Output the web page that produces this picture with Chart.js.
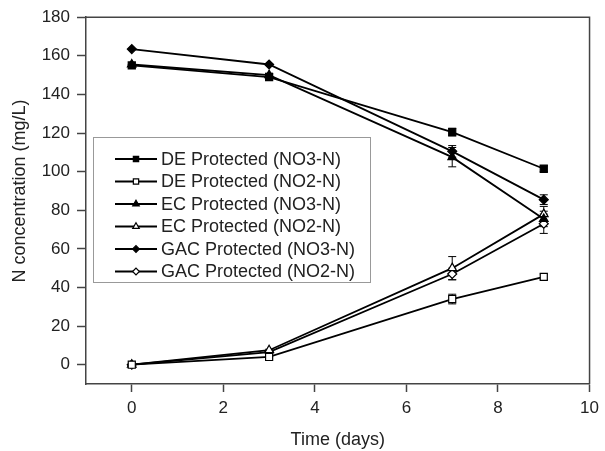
<!DOCTYPE html>
<html>
<head>
<meta charset="utf-8">
<script src="https://cdn.jsdelivr.net/npm/chart.js@4/dist/chart.umd.min.js"></script>
<style>
  html, body { margin: 0; padding: 0; background: #fff; }
  #wrap { width: 605px; height: 451px; }
</style>
</head>
<body>
<div id="wrap"><canvas id="chart" width="605" height="451"></canvas></div>
<script>
// time points (days)
const days = [0, 3, 7, 9];

// series values (mg/L)
const deNO3 = [155, 149, 120.5, 101.5];
const deNO2 = [0, 4, 34, 45.5];
const ecNO3 = [155.5, 150, 107.5, 75.5];
const ecNO2 = [0, 7.5, 50, 78];
const gacNO3 = [163.5, 155.5, 110.5, 85.5];
const gacNO2 = [0, 6.5, 47, 73];

// error bar half-widths
const deNO3Err = [0.5, 1, 2, 1.5];
const deNO2Err = [0, 0.5, 2.5, 1.5];
const ecNO3Err = [0, 1, 5, 4];
const ecNO2Err = [0, 0.5, 6, 4];
const gacNO3Err = [0, 0.5, 3, 2.5];
const gacNO2Err = [0, 0.5, 3, 5];

const xTicks = [0, 2, 4, 6, 8, 10];
const yTicks = [0, 20, 40, 60, 80, 100, 120, 140, 160, 180];

const labels = [
  "DE Protected (NO3-N)",
  "DE Protected (NO2-N)",
  "EC Protected (NO3-N)",
  "EC Protected (NO2-N)",
  "GAC Protected (NO3-N)",
  "GAC Protected (NO2-N)",
];
const yTitle = "N concentration (mg/L)";

const FONT = "'Liberation Sans', Arial, sans-serif";
const TEXT = "#222";

function series(label, vals, errs, style, filled, radius) {
  return {
    label: label,
    data: days.map((d, i) => ({ x: d, y: vals[i] })),
    errs: errs,
    borderColor: "#000",
    borderWidth: 1.8,
    pointStyle: style,
    pointRadius: radius,
    pointHoverRadius: radius,
    pointBorderWidth: 1.2,
    pointBackgroundColor: filled ? "#000" : "#fff",
    pointBorderColor: "#000",
    fill: false,
    tension: 0,
  };
}

const datasets = [
  series(labels[0], deNO3, deNO3Err, "rect", true, 5),
  series(labels[1], deNO2, deNO2Err, "rect", false, 5),
  series(labels[2], ecNO3, ecNO3Err, "triangle", true, 5),
  series(labels[3], ecNO2, ecNO2Err, "triangle", false, 5),
  series(labels[4], gacNO3, gacNO3Err, "rectRot", true, 4.5),
  series(labels[5], gacNO2, gacNO2Err, "rectRot", false, 4.5),
];

// vertical error bars with caps
const errorBars = {
  id: "errorBars",
  beforeDatasetsDraw(chart) {
    const { ctx, scales: { x, y } } = chart;
    ctx.save();
    ctx.strokeStyle = "#000";
    ctx.lineWidth = 1;
    chart.data.datasets.forEach(ds => {
      ds.data.forEach((p, i) => {
        const e = ds.errs[i];
        if (!e) return;
        const px = x.getPixelForValue(p.x);
        const top = y.getPixelForValue(p.y + e);
        const bot = y.getPixelForValue(p.y - e);
        ctx.beginPath();
        ctx.moveTo(px, top); ctx.lineTo(px, bot);
        ctx.moveTo(px - 4, top); ctx.lineTo(px + 4, top);
        ctx.moveTo(px - 4, bot); ctx.lineTo(px + 4, bot);
        ctx.stroke();
      });
    });
    ctx.restore();
  }
};

// top and right sides of the frame, plus the y title
const frame = {
  id: "frame",
  afterDraw(chart) {
    const { ctx, chartArea: a } = chart;
    ctx.save();
    ctx.strokeStyle = "#444";
    ctx.lineWidth = 1.5;
    ctx.beginPath();
    ctx.moveTo(a.left, a.top);
    ctx.lineTo(a.right, a.top);
    ctx.lineTo(a.right, a.bottom);
    ctx.stroke();
    ctx.translate(20, 191);
    ctx.rotate(-Math.PI / 2);
    ctx.fillStyle = TEXT;
    ctx.font = "18px " + FONT;
    ctx.textAlign = "center";
    ctx.textBaseline = "middle";
    ctx.fillText(yTitle, 0, 0);
    ctx.restore();
  }
};

// legend box inside the plot
const boxLegend = {
  id: "boxLegend",
  afterDraw(chart) {
    const { ctx } = chart;
    const left = 93, top = 137, right = 370, bottom = 282;
    ctx.save();
    ctx.fillStyle = "#fff";
    ctx.fillRect(left, top, right - left, bottom - top);
    ctx.strokeStyle = "#999";
    ctx.lineWidth = 1;
    ctx.strokeRect(left + 0.5, top + 0.5, right - left, bottom - top);
    chart.data.datasets.forEach((ds, i) => {
      const yy = 159 + i * 22.5;
      ctx.strokeStyle = "#000";
      ctx.lineWidth = 1.8;
      ctx.beginPath();
      ctx.moveTo(115, yy); ctx.lineTo(157, yy);
      ctx.stroke();
      ctx.fillStyle = ds.pointBackgroundColor;
      ctx.strokeStyle = "#000";
      ctx.lineWidth = 1.2;
      Chart.helpers.drawPoint(ctx, {
        pointStyle: ds.pointStyle,
        radius: ds.pointRadius * 0.75,
        borderWidth: 1.2,
        rotation: 0,
      }, 136, yy);
      ctx.fillStyle = TEXT;
      ctx.font = "18px " + FONT;
      ctx.textAlign = "left";
      ctx.textBaseline = "middle";
      ctx.fillText(ds.label, 161, yy + 1);
    });
    ctx.restore();
  }
};

new Chart(document.getElementById("chart").getContext("2d"), {
  type: "line",
  data: { datasets: datasets },
  options: {
    responsive: false,
    animation: false,
    layout: { padding: { top: 16, right: 15, left: 0, bottom: 0 } },
    plugins: {
      legend: { display: false },
      tooltip: { enabled: false },
    },
    scales: {
      x: {
        type: "linear",
        min: -1,
        max: 10,
        afterBuildTicks: s => { s.ticks = xTicks.map(v => ({ value: v })); },
        afterFit: s => { s.height = 67; },
        grid: { drawOnChartArea: false, tickLength: 8, tickColor: "#444", tickWidth: 1.5 },
        border: { color: "#444", width: 1.5 },
        ticks: { color: TEXT, font: { family: FONT, size: 17 }, padding: 6, maxRotation: 0 },
        title: { display: true, text: "Time (days)", color: TEXT, font: { family: FONT, size: 18 }, padding: { top: 5, bottom: 0 } },
      },
      y: {
        type: "linear",
        min: -10,
        max: 180,
        afterBuildTicks: s => { s.ticks = yTicks.map(v => ({ value: v })); },
        afterFit: s => { s.width = 86; },
        grid: { drawOnChartArea: false, tickLength: 9, tickColor: "#444", tickWidth: 1.5 },
        border: { color: "#444", width: 1.5 },
        ticks: { color: TEXT, font: { family: FONT, size: 17 }, padding: 7 },
      },
    },
  },
  plugins: [errorBars, frame, boxLegend],
});
</script>
</body>
</html>
